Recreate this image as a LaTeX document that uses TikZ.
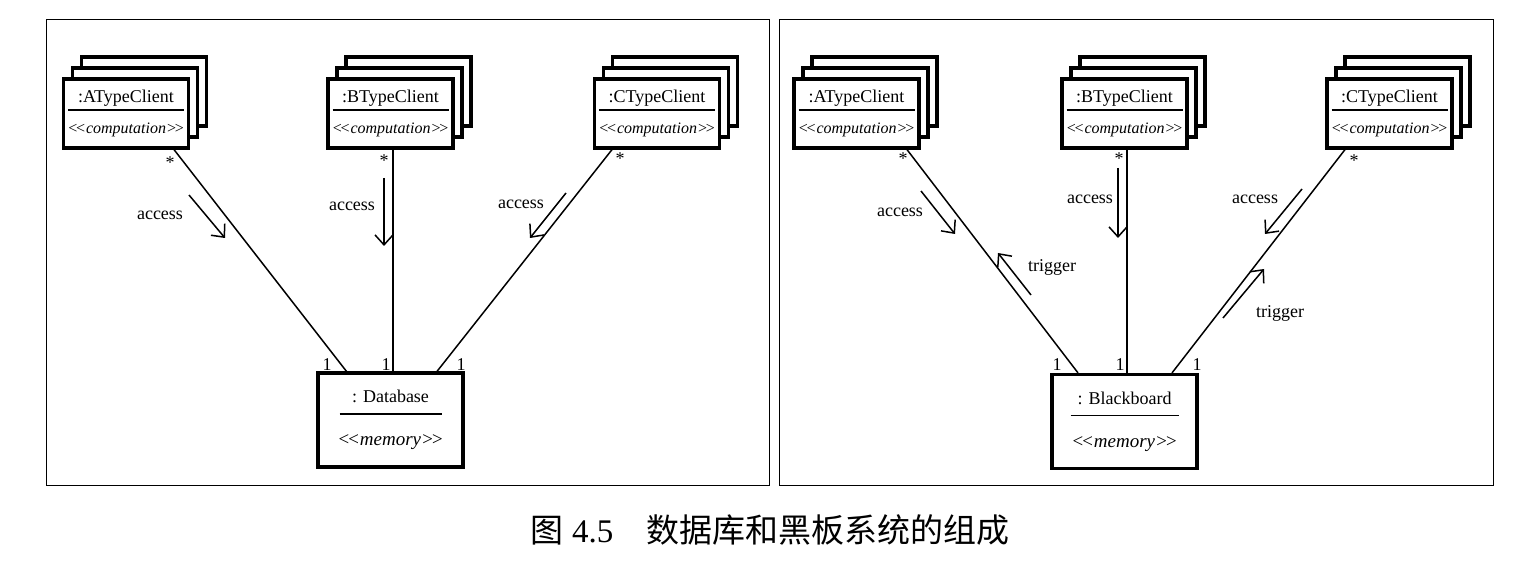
\documentclass[tikz,border=0pt]{standalone}
\usepackage{fontspec}
\setmainfont{Liberation Serif}
\newfontfamily\cjk{Noto Sans CJK SC}
\usetikzlibrary{shadows,arrows.meta,positioning,calc}

% object box text: name, rule, stereotype
\newcommand{\clienttext}[1]{#1\\[-13.6pt]\rule{116pt}{1.6pt}\\[1.4pt]{\fontsize{16}{19}\selectfont\itshape <\kern-3pt<computation>\kern-3pt>}}
\newcommand{\storetext}[2]{#1\\[-9.6pt]\rule{#2}{1.6pt}\\[9.4pt]{\fontsize{19}{22}\selectfont\itshape <\kern-3pt<memory>\kern-3pt>}}

\begin{document}
\begin{tikzpicture}[
		x=1pt, y=-1pt,
		every node/.style={font=\fontsize{18}{21.6}\selectfont},
		client/.style={
				draw, fill=white, line width=3.2pt,
				minimum width=125pt, minimum height=69pt,
				inner sep=0pt, align=center,
				copy shadow={shadow xshift=18pt, shadow yshift=22pt, draw, fill=white, line width=3.2pt},
				copy shadow={shadow xshift=9pt, shadow yshift=11pt, draw, fill=white, line width=3.2pt}
			},
		store/.style={
				draw, fill=white, line width=3.2pt,
				minimum width=145pt, minimum height=94pt,
				inner sep=0pt, align=center
			},
		link/.style={line width=1.5pt},
		msg/.style={line width=1.5pt, -{Straight Barb[length=10pt,width=18pt]}},
		panel/.style={line width=1pt}
	]
	\useasboundingbox (0,0) rectangle (1532,564);

	% left panel: database
	\draw[panel] (46,20) rectangle (769,485);
	\node[client] (acl) at (126,113.5) {\clienttext{:ATypeClient}};
	\node[client] (bcl) at (390.5,113.5) {\clienttext{:BTypeClient}};
	\node[client] (ccl) at (657,113.5) {\clienttext{:CTypeClient}};
	\node[store] (db) at (390.5,420) {\storetext{: Database}{102pt}};

	\draw[link] ([xshift=48pt]acl.south) -- ([xshift=-44pt]db.north);
	\draw[link] ([xshift=2.5pt]bcl.south) -- ([xshift=2.5pt]db.north);
	\draw[link] ([xshift=-45pt]ccl.south) -- ([xshift=46.5pt]db.north);

	\node (astar) at (170,163) {*};
	\node (bstar) at (384,161) {*};
	\node (cstar) at (620,159) {*};
	\node (aone) at (327,365) {1};
	\node (bone) at (386,365) {1};
	\node (cone) at (461,365) {1};

	\coordinate (aacc1) at (189,195);
	\coordinate (aacc2) at (225,238);
	\coordinate (bacc1) at (384,178);
	\coordinate (bacc2) at (384,246);
	\coordinate (cacc1) at (566,193);
	\coordinate (cacc2) at (530,238);
	\draw[msg] (aacc1) -- (aacc2);
	\draw[msg] (bacc1) -- (bacc2);
	\draw[msg] (cacc1) -- (cacc2);
	\node (alab) at (160,215) {access};
	\node (blab) at (352,206) {access};
	\node (clab) at (521,204) {access};

	% right panel: blackboard
	\draw[panel] (779,20) rectangle (1493,485);
	\node[client] (acl2) at (856.5,113.5) {\clienttext{:ATypeClient}};
	\node[client] (bcl2) at (1124.5,113.5) {\clienttext{:BTypeClient}};
	\node[client] (ccl2) at (1389.5,113.5) {\clienttext{:CTypeClient}};
	\node[store] (bb) at (1124.5,421.5) {\storetext{: Blackboard}{108pt}};

	\draw[link] ([xshift=50.5pt]acl2.south) -- ([xshift=-46.5pt]bb.north);
	\draw[link] ([xshift=2.5pt]bcl2.south) -- ([xshift=2.5pt]bb.north);
	\draw[link] ([xshift=-44.5pt]ccl2.south) -- ([xshift=47.5pt]bb.north);

	\node (astar2) at (903,159) {*};
	\node (bstar2) at (1119,159) {*};
	\node (cstar2) at (1354,161) {*};
	\node (aone2) at (1057,365) {1};
	\node (bone2) at (1120,365) {1};
	\node (cone2) at (1197,365) {1};

	\coordinate (aacc3) at (921,191);
	\coordinate (aacc4) at (955,234);
	\coordinate (atrg1) at (1031,295);
	\coordinate (atrg2) at (998,253);
	\coordinate (bacc3) at (1118,168);
	\coordinate (bacc4) at (1118,238);
	\coordinate (cacc3) at (1302,189);
	\coordinate (cacc4) at (1265,234);
	\coordinate (ctrg1) at (1223,318);
	\coordinate (ctrg2) at (1264,269);
	\draw[msg] (aacc3) -- (aacc4);
	\draw[msg] (atrg1) -- (atrg2);
	\draw[msg] (bacc3) -- (bacc4);
	\draw[msg] (cacc3) -- (cacc4);
	\draw[msg] (ctrg1) -- (ctrg2);
	\node (alab2) at (900,212) {access};
	\node (atlab) at (1052,267) {trigger};
	\node (blab2) at (1090,199) {access};
	\node (clab2) at (1255,199) {access};
	\node (ctlab) at (1280,313) {trigger};

	% caption
	\node (cap) at (770,530) {\fontsize{33}{40}\selectfont{\cjk 图} 4.5\hspace{1em}{\cjk 数据库和黑板系统的组成}};
\end{tikzpicture}
\end{document}
